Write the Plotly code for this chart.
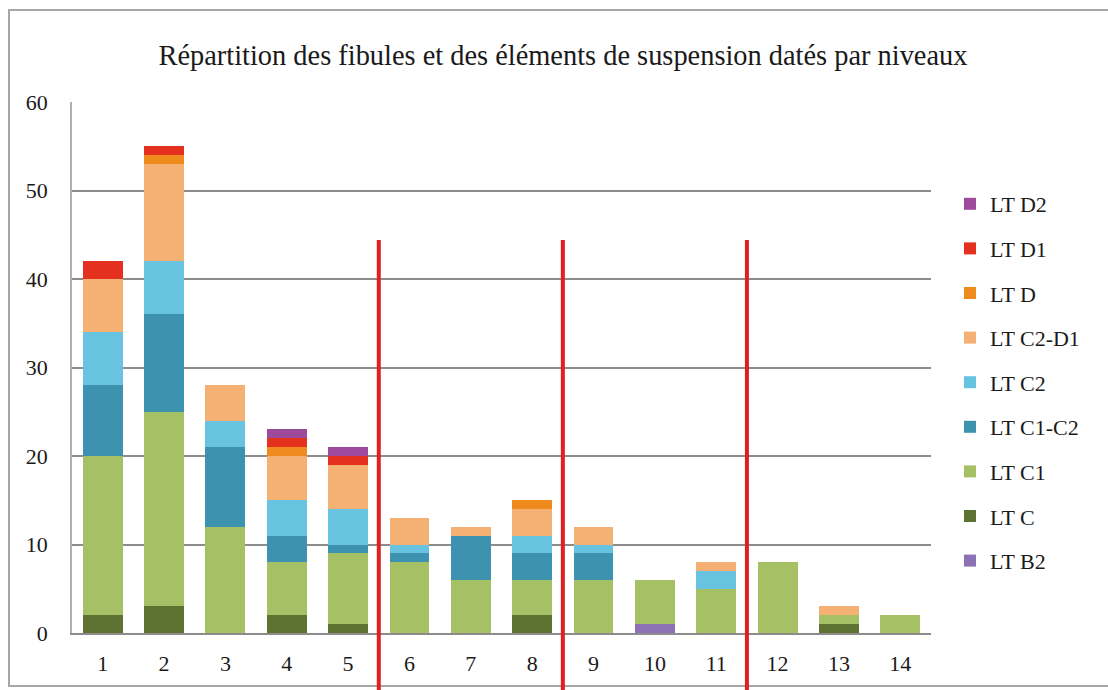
import plotly.graph_objects as go

# Niveaux (x categories)
niveaux = list(range(1, 15))

# Counts per dating phase, one list per phase (stacked bottom to top)
lt_b2 = [0, 0, 0, 0, 0, 0, 0, 0, 0, 1, 0, 0, 0, 0]
lt_c = [2, 3, 0, 2, 1, 0, 0, 2, 0, 0, 0, 0, 1, 0]
lt_c1 = [18, 22, 12, 6, 8, 8, 6, 4, 6, 5, 5, 8, 1, 2]
lt_c1_c2 = [8, 11, 9, 3, 1, 1, 5, 3, 3, 0, 0, 0, 0, 0]
lt_c2 = [6, 6, 3, 4, 4, 1, 0, 2, 1, 0, 2, 0, 0, 0]
lt_c2_d1 = [6, 11, 4, 5, 5, 3, 1, 3, 2, 0, 1, 0, 1, 0]
lt_d = [0, 1, 0, 1, 0, 0, 0, 1, 0, 0, 0, 0, 0, 0]
lt_d1 = [2, 1, 0, 1, 1, 0, 0, 0, 0, 0, 0, 0, 0, 0]
lt_d2 = [0, 0, 0, 1, 1, 0, 0, 0, 0, 0, 0, 0, 0, 0]

series_names = ["LT B2", "LT C", "LT C1", "LT C1-C2", "LT C2",
                "LT C2-D1", "LT D", "LT D1", "LT D2"]
series_values = [lt_b2, lt_c, lt_c1, lt_c1_c2, lt_c2,
                 lt_c2_d1, lt_d, lt_d1, lt_d2]
series_colors = ["#8c72b4", "#5e7331", "#a6c065", "#3d93af", "#68c3e0",
                 "#f5b073", "#ef8a1c", "#e4301e", "#9e4a9c"]

# Phase boundaries drawn as red separators between niveaux
separators = [5.5, 8.5, 11.5]
separator_top = 44.4

title_text = "Répartition des fibules et des éléments de suspension datés par niveaux"

W, H = 1108, 690
L, R, T, B = 72, 177, 102, 57
X_RANGE = [0.5, 14.5]
Y_RANGE = [0, 60]
FONT = "Liberation Serif, Times New Roman, serif"
GRID = "#8c8c8c"

plot_w = W - L - R
plot_h = H - T - B


def px_to_paper_x(px):
    return (px - L) / plot_w


def px_to_paper_y(py):
    return (H - B - py) / plot_h


fig = go.Figure()
n_series = len(series_names)
for i, (name, vals, col) in enumerate(zip(series_names, series_values, series_colors)):
    fig.add_trace(go.Bar(
        x=niveaux, y=vals, name=name, legendgroup=name,
        legendrank=n_series - i,  # top of the stack listed first
        marker=dict(color=col, line=dict(width=0)),
    ))

shapes = []
for s in separators:
    xp = (s - X_RANGE[0]) / (X_RANGE[1] - X_RANGE[0])
    shapes.append(dict(
        type="line", xref="paper", yref="paper",
        x0=xp, x1=xp,
        y0=px_to_paper_y(H + 5),
        y1=(separator_top - Y_RANGE[0]) / (Y_RANGE[1] - Y_RANGE[0]),
        line=dict(color="#e02020", width=4), layer="above",
    ))

# Outer chart frame
shapes.append(dict(
    type="rect", xref="paper", yref="paper",
    x0=px_to_paper_x(9), x1=px_to_paper_x(W + 5),
    y0=px_to_paper_y(686), y1=px_to_paper_y(10),
    line=dict(color="#a6a6a6", width=2), fillcolor="rgba(0,0,0,0)",
    layer="below",
))

fig.update_layout(
    width=W, height=H,
    margin=dict(l=L, r=R, t=T, b=B, autoexpand=False),
    paper_bgcolor="white", plot_bgcolor="white",
    barmode="stack", bargap=0.35,
    font=dict(family=FONT, size=22, color="#1a1a1a"),
    title=dict(
        text=title_text, xref="container", yref="container",
        x=563 / W, y=1 - 55 / H, xanchor="center", yanchor="middle",
        font=dict(family=FONT, size=28.4, color="#1a1a1a"),
    ),
    xaxis=dict(
        range=X_RANGE, tickmode="array", tickvals=niveaux,
        ticktext=[str(n) for n in niveaux],
        showgrid=False, zeroline=False,
        showline=True, linecolor=GRID, linewidth=2,
        ticks="", ticklabelstandoff=10,
    ),
    yaxis=dict(
        range=Y_RANGE, tickmode="array", tickvals=[0, 10, 20, 30, 40, 50, 60],
        showgrid=True, gridcolor=GRID, gridwidth=2, zeroline=False,
        showline=True, linecolor="#b0b0b0", linewidth=1.5,
        ticks="", ticklabelstandoff=18,
    ),
    legend=dict(
        x=px_to_paper_x(950), xanchor="left",
        y=px_to_paper_y(183), yanchor="top",
        traceorder="grouped", tracegroupgap=13,
        font=dict(family=FONT, size=22, color="#1a1a1a"),
        bgcolor="rgba(0,0,0,0)",
    ),
    shapes=shapes,
)

fig.write_html("out.html")
